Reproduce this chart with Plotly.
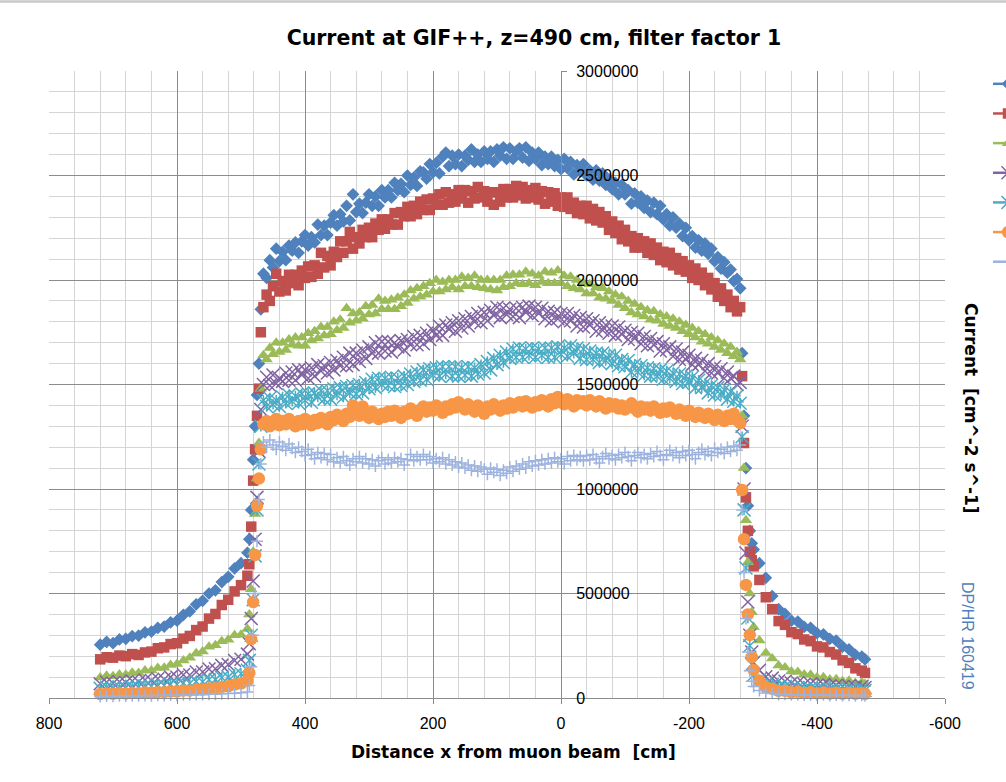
import plotly.graph_objects as go

# ---------------- data ----------------
# x positions [cm] (shared by all series)
X_LEFT_TAIL = [720, 710, 700, 690, 680, 670, 660, 650, 640, 630, 620, 610,
               600, 590, 580, 570, 560, 550, 540, 530, 520, 510, 500, 490]
X_LEFT_EDGE = [487, 484, 481, 478, 475, 472, 469]
X_PLATEAU = [465, 460, 455, 450, 445, 440, 435, 430, 425, 420,
             415, 410, 405, 400, 395, 390, 385, 380, 375, 370,
             365, 360, 355, 350, 345, 340, 335, 330, 325, 320,
             315, 310, 305, 300, 295, 290, 285, 280, 275, 270,
             265, 260, 255, 250, 245, 240, 235, 230, 225, 220,
             215, 210, 205, 200, 195, 190, 185, 180, 175, 170,
             165, 160, 155, 150, 145, 140, 135, 130, 125, 120,
             115, 110, 105, 100, 95, 90, 85, 80, 75, 70,
             65, 60, 55, 50, 45, 40, 35, 30, 25, 20,
             15, 10, 5, 0, -5, -10, -15, -20, -25, -30,
             -35, -40, -45, -50, -55, -60, -65, -70, -75, -80,
             -85, -90, -95, -100, -105, -110, -115, -120, -125, -130,
             -135, -140, -145, -150, -155, -160, -165, -170, -175, -180,
             -185, -190, -195, -200, -205, -210, -215, -220, -225, -230,
             -235, -240, -245, -250, -255, -260, -265, -270, -275, -280]
X_RIGHT_EDGE = [-283, -286, -289, -292, -295, -298, -301]
X_RIGHT_TAIL = [-310, -320, -330, -340, -350, -360, -370, -380, -390, -400,
                -410, -420, -430, -440, -450, -460, -470, -475]
X_CM = X_LEFT_TAIL + X_LEFT_EDGE + X_PLATEAU + X_RIGHT_EDGE + X_RIGHT_TAIL

# currents in units of 1000 cm^-2 s^-1 (left tail | left edge | plateau | right edge | right tail)
SERIES_1_K = [
    255, 268, 262, 280, 283, 296, 298, 314, 318, 335, 342, 362, 370, 398, 415, 448, 465, 500, 515, 555, 580, 620, 645, 695,
    760, 900, 1140, 1300, 1450, 1600, 1860,
    2030, 2010, 2095, 2060, 2150, 2090, 2135, 2095, 2165, 2140,
    2180, 2130, 2185, 2215, 2165, 2205, 2180, 2265, 2215, 2260,
    2215, 2275, 2310, 2260, 2315, 2280, 2355, 2285, 2410, 2325,
    2365, 2320, 2370, 2410, 2355, 2400, 2355, 2430, 2395, 2430,
    2395, 2465, 2430, 2460, 2420, 2500, 2455, 2490, 2450, 2520,
    2515, 2485, 2555, 2515, 2560, 2510, 2590, 2610, 2545, 2595,
    2555, 2600, 2545, 2595, 2575, 2625, 2565, 2600, 2565, 2615,
    2580, 2615, 2565, 2625, 2595, 2635, 2580, 2630, 2580, 2615,
    2630, 2585, 2635, 2570, 2610, 2580, 2610, 2550, 2590, 2555,
    2590, 2545, 2575, 2530, 2580, 2535, 2565, 2505, 2550, 2520,
    2555, 2500, 2525, 2480, 2525, 2475, 2510, 2455, 2480, 2435,
    2465, 2410, 2455, 2410, 2430, 2365, 2415, 2370, 2400, 2345,
    2380, 2325, 2370, 2315, 2355, 2290, 2315, 2260, 2300, 2250,
    2270, 2210, 2250, 2190, 2210, 2155, 2190, 2140, 2175, 2125,
    2150, 2090, 2110, 2055, 2085, 2035, 2050, 1995, 2005, 1960,
    1650, 1350, 1100, 920, 800, 740, 710,
    645, 575, 488, 425, 402, 370, 366, 340, 336, 310, 305, 283, 275, 246, 233, 206, 198, 185,
]
SERIES_2_K = [
    185, 195, 193, 203, 200, 210, 206, 218, 222, 238, 242, 258, 262, 284, 297, 325, 342, 380, 402, 445, 470, 510, 540, 585,
    640, 820, 1040, 1190, 1350, 1480, 1750,
    1870, 1930, 1900, 1970, 2030, 1945, 1995, 1950, 2025, 1985,
    2025, 1975, 2045, 2010, 2065, 2015, 2070, 2030, 2130, 2060,
    2115, 2070, 2135, 2110, 2185, 2130, 2185, 2230, 2150, 2205,
    2175, 2240, 2205, 2250, 2205, 2270, 2240, 2290, 2245, 2290,
    2265, 2320, 2265, 2325, 2305, 2350, 2305, 2355, 2315, 2375,
    2335, 2385, 2335, 2390, 2360, 2410, 2360, 2420, 2370, 2410,
    2375, 2430, 2390, 2430, 2370, 2425, 2390, 2445, 2395, 2425,
    2375, 2420, 2360, 2420, 2375, 2435, 2395, 2435, 2395, 2450,
    2405, 2445, 2390, 2430, 2395, 2440, 2385, 2425, 2365, 2420,
    2375, 2415, 2355, 2395, 2350, 2395, 2340, 2370, 2320, 2355,
    2315, 2355, 2295, 2340, 2285, 2325, 2275, 2305, 2240, 2280,
    2225, 2260, 2195, 2240, 2185, 2210, 2155, 2200, 2155, 2185,
    2130, 2175, 2120, 2155, 2095, 2135, 2085, 2130, 2070, 2105,
    2050, 2090, 2040, 2070, 2010, 2055, 2000, 2035, 1975, 2010,
    1955, 1985, 1920, 1960, 1900, 1930, 1870, 1900, 1850, 1870,
    1540, 1220, 960, 800, 700, 660, 630,
    565, 482, 425, 368, 350, 315, 306, 280, 272, 247, 242, 220, 208, 180, 168, 142, 131, 120,
]
SERIES_3_K = [
    98, 106, 104, 113, 111, 121, 120, 131, 131, 143, 145, 158, 163, 180, 192, 214, 222, 245, 252, 272, 279, 300, 303, 330,
    400, 520, 700, 880, 1050, 1220, 1480,
    1640, 1620, 1675, 1645, 1700, 1655, 1700, 1665, 1715, 1690,
    1725, 1685, 1725, 1685, 1745, 1710, 1755, 1720, 1775, 1735,
    1775, 1740, 1800, 1760, 1810, 1770, 1865, 1795, 1840, 1805,
    1845, 1815, 1875, 1835, 1880, 1840, 1910, 1860, 1900, 1860,
    1905, 1860, 1915, 1875, 1930, 1890, 1950, 1910, 1960, 1920,
    1970, 1930, 1985, 1945, 2000, 1945, 1990, 1955, 2000, 1965,
    2000, 1955, 2015, 1970, 2010, 1970, 2020, 1965, 2000, 1960,
    2000, 1955, 2000, 1950, 2000, 1965, 2020, 1970, 2025, 1985,
    2025, 1980, 2040, 1985, 2030, 1975, 2020, 1990, 2040, 1985,
    2035, 1985, 2045, 1985, 2020, 1970, 2015, 1960, 2000, 1955,
    1985, 1935, 1980, 1935, 1965, 1915, 1960, 1910, 1945, 1900,
    1930, 1880, 1920, 1865, 1900, 1845, 1885, 1835, 1870, 1825,
    1855, 1810, 1850, 1805, 1835, 1790, 1825, 1780, 1815, 1770,
    1800, 1755, 1785, 1740, 1770, 1725, 1755, 1705, 1740, 1695,
    1725, 1680, 1710, 1665, 1695, 1650, 1680, 1635, 1655, 1620,
    1350, 1100, 850, 650, 500, 410, 340,
    275, 215, 189, 156, 146, 127, 125, 112, 111, 98, 99, 88, 90, 80, 82, 72, 74, 67,
]
SERIES_4_K = [
    68, 75, 71, 78, 74, 81, 78, 86, 84, 92, 90, 100, 99, 111, 110, 124, 124, 139, 140, 156, 160, 179, 185, 210,
    260, 380, 560, 760, 960, 1180, 1380,
    1500, 1535, 1495, 1545, 1505, 1530, 1515, 1555, 1520, 1560,
    1520, 1570, 1545, 1570, 1530, 1580, 1540, 1595, 1565, 1590,
    1555, 1605, 1570, 1615, 1590, 1630, 1590, 1650, 1595, 1650,
    1610, 1665, 1625, 1680, 1650, 1700, 1650, 1705, 1660, 1705,
    1655, 1700, 1680, 1710, 1665, 1715, 1690, 1730, 1690, 1735,
    1695, 1745, 1715, 1760, 1735, 1780, 1735, 1785, 1765, 1795,
    1755, 1805, 1770, 1815, 1780, 1825, 1800, 1840, 1795, 1845,
    1805, 1855, 1830, 1870, 1820, 1865, 1835, 1860, 1825, 1865,
    1820, 1870, 1845, 1875, 1830, 1870, 1840, 1865, 1815, 1850,
    1805, 1845, 1815, 1840, 1800, 1840, 1805, 1830, 1780, 1820,
    1775, 1815, 1785, 1805, 1755, 1795, 1760, 1785, 1745, 1780,
    1735, 1775, 1740, 1760, 1715, 1750, 1720, 1745, 1695, 1730,
    1685, 1720, 1690, 1705, 1660, 1695, 1665, 1680, 1635, 1670,
    1620, 1655, 1620, 1640, 1595, 1625, 1595, 1615, 1565, 1600,
    1555, 1585, 1555, 1575, 1530, 1560, 1530, 1540, 1500, 1510,
    1300, 1000, 694, 459, 300, 220, 170,
    133, 102, 95, 81, 80, 72, 73, 66, 68, 62, 64, 58, 60, 55, 57, 52, 55, 50,
]
SERIES_5_K = [
    46, 51, 48, 53, 50, 55, 53, 58, 56, 62, 60, 66, 65, 72, 71, 79, 78, 87, 88, 98, 100, 112, 116, 133,
    180, 300, 470, 680, 900, 1120, 1300,
    1425, 1395, 1435, 1405, 1425, 1395, 1440, 1410, 1450, 1420,
    1445, 1410, 1455, 1425, 1455, 1415, 1460, 1440, 1470, 1430,
    1470, 1430, 1480, 1450, 1485, 1440, 1490, 1460, 1495, 1455,
    1500, 1460, 1510, 1480, 1525, 1485, 1530, 1500, 1530, 1495,
    1535, 1490, 1530, 1495, 1540, 1500, 1550, 1515, 1560, 1520,
    1570, 1525, 1575, 1545, 1580, 1540, 1585, 1550, 1585, 1540,
    1585, 1540, 1580, 1545, 1585, 1540, 1580, 1550, 1595, 1555,
    1610, 1570, 1625, 1595, 1640, 1605, 1655, 1625, 1670, 1630,
    1675, 1630, 1670, 1640, 1675, 1630, 1670, 1640, 1675, 1630,
    1675, 1630, 1680, 1645, 1675, 1635, 1685, 1650, 1675, 1625,
    1670, 1620, 1660, 1620, 1650, 1605, 1650, 1615, 1640, 1600,
    1640, 1590, 1620, 1585, 1615, 1560, 1595, 1560, 1590, 1545,
    1580, 1540, 1575, 1540, 1570, 1525, 1565, 1530, 1555, 1515,
    1550, 1505, 1540, 1510, 1535, 1485, 1520, 1485, 1505, 1460,
    1495, 1450, 1485, 1450, 1475, 1430, 1465, 1420, 1445, 1410,
    1250, 900, 622, 383, 250, 160, 110,
    88, 67, 64, 55, 55, 48, 50, 44, 47, 42, 45, 40, 43, 38, 42, 37, 40, 36,
]
SERIES_6_K = [
    19, 22, 20, 23, 21, 24, 23, 26, 25, 28, 28, 31, 31, 35, 35, 39, 40, 45, 47, 53, 56, 64, 69, 82,
    120, 282, 459, 684, 920, 1050, 1190,
    1310, 1325, 1300, 1320, 1335, 1305, 1325, 1310, 1335, 1315,
    1300, 1325, 1310, 1335, 1320, 1305, 1330, 1315, 1340, 1325,
    1310, 1345, 1330, 1355, 1340, 1325, 1360, 1345, 1400, 1365,
    1350, 1395, 1360, 1340, 1370, 1355, 1335, 1360, 1345, 1370,
    1350, 1375, 1355, 1340, 1370, 1360, 1385, 1365, 1350, 1380,
    1395, 1370, 1390, 1375, 1400, 1385, 1365, 1395, 1380, 1405,
    1390, 1415, 1395, 1380, 1405, 1390, 1370, 1400, 1385, 1360,
    1395, 1380, 1405, 1390, 1375, 1400, 1385, 1410, 1390, 1405,
    1415, 1395, 1420, 1405, 1390, 1415, 1400, 1425, 1410, 1395,
    1430, 1410, 1440, 1420, 1405, 1430, 1415, 1395, 1425, 1410,
    1420, 1400, 1425, 1410, 1395, 1420, 1405, 1385, 1410, 1395,
    1405, 1385, 1400, 1380, 1395, 1410, 1385, 1370, 1395, 1380,
    1390, 1375, 1395, 1380, 1365, 1385, 1370, 1390, 1375, 1360,
    1380, 1365, 1350, 1375, 1360, 1345, 1365, 1350, 1340, 1360,
    1345, 1330, 1355, 1340, 1325, 1350, 1335, 1360, 1330, 1315,
    995, 760, 541, 400, 301, 196, 134,
    82, 52, 44, 34, 34, 27, 29, 24, 27, 22, 26, 21, 25, 20, 24, 20, 23, 19,
]
SERIES_7_K = [
    7, 9, 8, 10, 9, 11, 10, 12, 11, 13, 12, 14, 13, 15, 15, 17, 16, 18, 18, 20, 21, 23, 25, 29,
    60, 150, 300, 500, 750, 950, 1120,
    1225, 1200, 1235, 1210, 1190, 1225, 1205, 1185, 1215, 1195,
    1175, 1200, 1180, 1160, 1190, 1165, 1145, 1175, 1150, 1170,
    1140, 1165, 1130, 1150, 1125, 1155, 1135, 1115, 1145, 1130,
    1155, 1125, 1145, 1120, 1140, 1110, 1135, 1150, 1120, 1140,
    1125, 1150, 1130, 1145, 1115, 1140, 1165, 1135, 1155, 1140,
    1165, 1140, 1155, 1125, 1145, 1130, 1150, 1120, 1140, 1115,
    1130, 1105, 1125, 1100, 1115, 1090, 1110, 1085, 1105, 1095,
    1070, 1100, 1080, 1095, 1065, 1090, 1075, 1105, 1085, 1110,
    1095, 1120, 1100, 1130, 1110, 1135, 1115, 1140, 1120, 1145,
    1125, 1150, 1130, 1145, 1120, 1155, 1135, 1160, 1140, 1155,
    1135, 1160, 1140, 1165, 1145, 1125, 1155, 1170, 1145, 1160,
    1140, 1165, 1150, 1175, 1155, 1135, 1160, 1175, 1150, 1165,
    1145, 1170, 1155, 1180, 1160, 1140, 1165, 1185, 1160, 1175,
    1150, 1180, 1160, 1185, 1165, 1145, 1175, 1190, 1165, 1180,
    1160, 1195, 1175, 1190, 1170, 1200, 1180, 1205, 1185, 1210,
    900, 600, 380, 220, 130, 80, 55,
    36, 24, 22, 17, 18, 15, 16, 14, 15, 13, 15, 12, 14, 12, 13, 11, 13, 11,
]

SERIES_NAMES = ["Series 1", "Series 2", "Series 3", "Series 4", "Series 5", "Series 6", "Series 7"]
SERIES_VALUES_K = [SERIES_1_K, SERIES_2_K, SERIES_3_K, SERIES_4_K, SERIES_5_K, SERIES_6_K, SERIES_7_K]

X_TICK_VALUES = [800, 600, 400, 200, 0, -200, -400, -600]
X_TICK_TEXT = ["800", "600", "400", "200", "0", "-200", "-400", "-600"]
Y_TICK_VALUES = [0, 500000, 1000000, 1500000, 2000000, 2500000, 3000000]
Y_TICK_TEXT = ["0", "500000", "1000000", "1500000", "2000000", "2500000", "3000000"]

TITLE = "Current at GIF++, z=490 cm, filter factor 1"
X_TITLE = "Distance x from muon beam  [cm]"
Y_TITLE = "Current  [cm^-2 s^-1]"
STAMP = "DP/HR 160419"

# ---------------- styles ----------------
COLORS = ["#4F81BD", "#C0504D", "#9BBB59", "#8064A2", "#4BACC6", "#F79646", "#9DB3DF"]
STYLES = [
    dict(symbol="diamond", size=9.8),
    dict(symbol="square", size=10.5),
    dict(symbol="triangle-up", size=11),
    dict(symbol="x-thin", size=13, line=dict(width=1.5)),
    dict(symbol="x-thin", size=13, line=dict(width=1.5)),
    dict(symbol="circle", size=12.5),
    dict(symbol="cross-thin", size=8.5, line=dict(width=1.5)),
]
MAJOR_GRID = "#8c8c8c"
MINOR_GRID = "#d4d4d4"
AXIS_COLOR = "#8c8c8c"
COMIC = "DejaVu Sans"

fig = go.Figure()
for i, (name, vals) in enumerate(zip(SERIES_NAMES, SERIES_VALUES_K)):
    y = [v * 1000 for v in vals]
    st = dict(STYLES[i])
    st["color"] = COLORS[i]
    if "line" in st:
        st["line"] = dict(st["line"], color=COLORS[i])
    fig.add_trace(go.Scatter(x=X_CM, y=y, mode="markers", name=name, marker=st,
                             showlegend=False, legendgroup=name, cliponaxis=False,
                             hoverinfo="x+y"))
    if i == 4:  # star marker: x plus a vertical bar
        fig.add_trace(go.Scatter(x=X_CM, y=y, mode="markers", name=name,
                                 marker=dict(symbol="line-ns", size=7.5, color=COLORS[i],
                                             line=dict(width=1.5, color=COLORS[i])),
                                 showlegend=False, legendgroup=name, cliponaxis=False,
                                 hoverinfo="skip"))

# legend keys (line + marker); their labels lie beyond the picture's right edge in the reference
for i, name in enumerate(SERIES_NAMES):
    st = dict(STYLES[i])
    st["color"] = COLORS[i]
    if "line" in st:
        st["line"] = dict(st["line"], color=COLORS[i])
    fig.add_trace(go.Scatter(x=[None], y=[None], mode="lines+markers", name="",
                             marker=st, line=dict(color=COLORS[i], width=2.5),
                             legendgroup=name, showlegend=True))

fig.update_layout(
    width=1006, height=782,
    margin=dict(l=49, r=61, t=71, b=84, autoexpand=False),
    paper_bgcolor="white", plot_bgcolor="white",
    title=dict(text=TITLE, x=534 / 1006, xanchor="center", xref="container",
               y=1 - 38 / 782, yanchor="middle", yref="container",
               font=dict(family=COMIC, size=20.5, color="black", weight="bold")),
    showlegend=True,
    legend=dict(x=(988 - 49) / 896, xanchor="left", y=(698 - 64) / 627, yanchor="top",
                font=dict(size=20.5, color="black"), bgcolor="rgba(0,0,0,0)",
                borderwidth=0, tracegroupgap=0, traceorder="normal"),
    xaxis=dict(range=[800, -600], tickmode="array", tickvals=X_TICK_VALUES, ticktext=X_TICK_TEXT,
               showgrid=True, gridcolor=MAJOR_GRID, gridwidth=1,
               minor=dict(dtick=40, tick0=0, showgrid=True, gridcolor=MINOR_GRID, gridwidth=1),
               showline=True, linecolor=AXIS_COLOR, linewidth=1,
               ticks="outside", ticklen=5, tickcolor=AXIS_COLOR, ticklabelstandoff=6,
               tickfont=dict(family="Liberation Sans", size=16, color="black"),
               zeroline=False),
    yaxis=dict(range=[0, 3000000], tickmode="array", tickvals=Y_TICK_VALUES, ticktext=Y_TICK_TEXT,
               anchor="free", position=800 / 1400, side="right",
               showgrid=True, gridcolor=MAJOR_GRID, gridwidth=1,
               minor=dict(dtick=100000, tick0=0, showgrid=True, gridcolor=MINOR_GRID, gridwidth=1),
               showline=True, linecolor=AXIS_COLOR, linewidth=1,
               ticks="outside", ticklen=5, tickcolor=AXIS_COLOR, ticklabelstandoff=6,
               tickfont=dict(family="Liberation Sans", size=16, color="black"),
               zeroline=False),
    shapes=[
        # thin grey border along the top of the chart area
        dict(type="line", xref="paper", yref="paper",
             x0=-49 / 896, x1=(1006 - 49) / 896, y0=(698 - 1.5) / 627, y1=(698 - 1.5) / 627,
             line=dict(color="#c8c8c8", width=2.5), layer="above"),
    ],
    annotations=[
        dict(text=X_TITLE, xref="paper", yref="paper", x=(513 - 49) / 896, y=(698 - 752) / 627,
             xanchor="center", yanchor="middle", showarrow=False,
             font=dict(family=COMIC, size=17, color="black", weight="bold")),
        dict(text=Y_TITLE, xref="paper", yref="paper", x=(971 - 49) / 896, y=(698 - 408) / 627,
             xanchor="center", yanchor="middle", showarrow=False, textangle=90,
             font=dict(family=COMIC, size=17, color="black", weight="bold")),
        dict(text=STAMP, xref="paper", yref="paper", x=(968 - 49) / 896, y=(698 - 636) / 627,
             xanchor="center", yanchor="middle", showarrow=False, textangle=90,
             font=dict(family="Liberation Sans", size=16, color="#4F81BD")),
    ],
)

fig.write_html("out.html")
